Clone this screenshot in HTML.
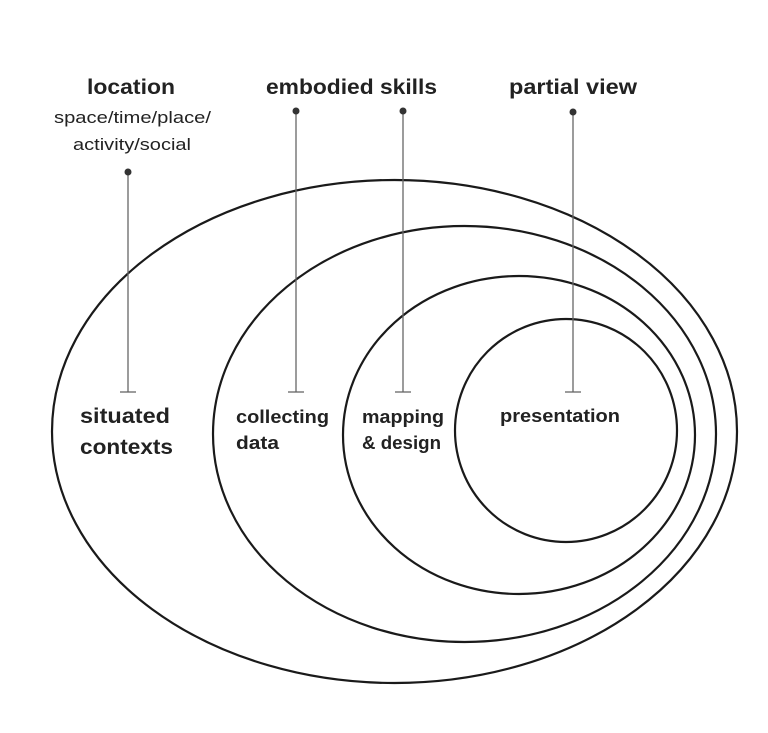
<!DOCTYPE html>
<html><head><meta charset="utf-8"><style>
html,body{margin:0;padding:0;background:#fff}
svg{display:block}
text{font-family:"Liberation Sans",sans-serif;fill:#222}
.b{font-weight:bold}
</style></head><body>
<svg width="768" height="733" viewBox="0 0 768 733" xmlns="http://www.w3.org/2000/svg">
<g fill="none" stroke="#1a1a1a" stroke-width="2.2">
<ellipse cx="394.5" cy="431.5" rx="342.5" ry="251.5"/>
<ellipse cx="464.5" cy="434" rx="251.5" ry="208"/>
<ellipse cx="519" cy="435" rx="176" ry="159"/>
<ellipse cx="566" cy="430.5" rx="111" ry="111.5"/>
</g>
<g stroke="#666" stroke-width="1.3">
<line x1="128" y1="172" x2="128" y2="392"/><line x1="120" y1="392" x2="136" y2="392"/>
<line x1="296" y1="111" x2="296" y2="392"/><line x1="288" y1="392" x2="304" y2="392"/>
<line x1="403" y1="111" x2="403" y2="392"/><line x1="395" y1="392" x2="411" y2="392"/>
<line x1="573" y1="112" x2="573" y2="392"/><line x1="565" y1="392" x2="581" y2="392"/>
</g>
<g fill="#333">
<circle cx="128" cy="172" r="3.5"/><circle cx="296" cy="111" r="3.5"/>
<circle cx="403" cy="111" r="3.5"/><circle cx="573" cy="112" r="3.5"/>
</g>
<g lengthAdjust="spacingAndGlyphs">
<text class="b" x="87" y="94" font-size="21" textLength="88" lengthAdjust="spacingAndGlyphs">location</text>
<text x="54" y="123" font-size="17" textLength="157" lengthAdjust="spacingAndGlyphs">space/time/place/</text>
<text x="73" y="150" font-size="17" textLength="118" lengthAdjust="spacingAndGlyphs">activity/social</text>
<text class="b" x="266" y="94" font-size="21" textLength="171" lengthAdjust="spacingAndGlyphs">embodied skills</text>
<text class="b" x="509" y="94" font-size="21" textLength="128" lengthAdjust="spacingAndGlyphs">partial view</text>
<text class="b" x="80" y="423" font-size="21" textLength="90" lengthAdjust="spacingAndGlyphs">situated</text>
<text class="b" x="80" y="454" font-size="21" textLength="93" lengthAdjust="spacingAndGlyphs">contexts</text>
<text class="b" x="236" y="423" font-size="18.5" textLength="93" lengthAdjust="spacingAndGlyphs">collecting</text>
<text class="b" x="236" y="449" font-size="18.5" textLength="43" lengthAdjust="spacingAndGlyphs">data</text>
<text class="b" x="362" y="423" font-size="18.5" textLength="82" lengthAdjust="spacingAndGlyphs">mapping</text>
<text class="b" x="362" y="449" font-size="18.5" textLength="79" lengthAdjust="spacingAndGlyphs">&amp; design</text>
<text class="b" x="500" y="422" font-size="18" textLength="120" lengthAdjust="spacingAndGlyphs">presentation</text>
</g>
</svg>
</body></html>
